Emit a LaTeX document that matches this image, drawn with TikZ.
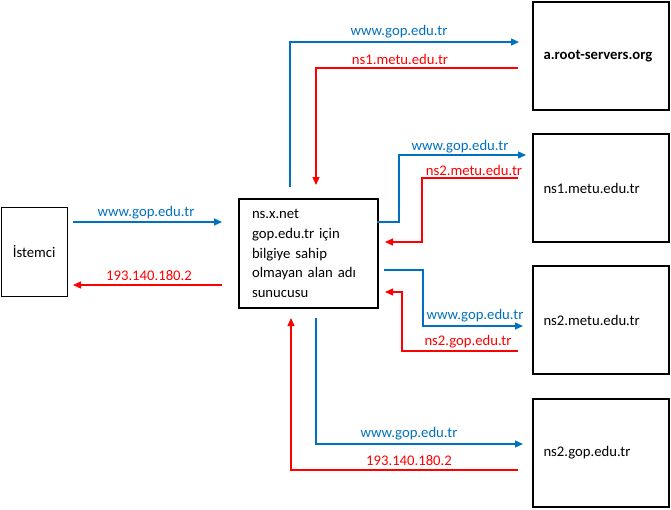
\documentclass[tikz,border=0pt]{standalone}
\usepackage{fontspec}
\setmainfont{Carlito}
\usetikzlibrary{arrows.meta}
\definecolor{qblue}{RGB}{0,112,192}
\definecolor{qred}{RGB}{255,0,0}
\begin{document}
\begin{tikzpicture}[x=1pt,y=-1pt,
  every node/.style={font=\fontsize{14.7}{19.8}\selectfont},
  srv/.style={draw, line width=2pt, anchor=north west, minimum width=136pt, minimum height=108pt,
              text width=115pt, inner xsep=10.5pt, align=left},
  qry/.style={qblue, line width=1.3pt, -{Triangle[length=8pt,width=7pt]}},
  ans/.style={qred, line width=1.3pt, -{Triangle[length=8pt,width=7pt]}},
  qlbl/.style={text=qblue, inner sep=0pt},
  albl/.style={text=qred, inner sep=0pt}]
\useasboundingbox (0,0) rectangle (671,509);

% boxes
\node[draw, line width=1pt, minimum width=66pt, minimum height=89pt, anchor=north west, inner sep=0pt]
  (ist) at (0.7,207) {İstemci};
\node[draw, line width=2pt, anchor=north west, minimum width=139pt, minimum height=109pt,
      text width=113pt, inner xsep=13pt, align=left] (ns) at (238,198)
  {ns.x.net\\gop.edu.tr için\\bilgiye sahip\\olmayan alan adı\\sunucusu};
\node[srv, font=\fontsize{14.7}{19.8}\selectfont\bfseries] (root) at (532,1) {a.root-servers.org};
\node[srv] (ns1) at (532,133) {ns1.metu.edu.tr};
\node[srv] (ns2m) at (532,265) {ns2.metu.edu.tr};
\node[srv] (ns2g) at (532,398) {ns2.gop.edu.tr};

% connector end points
\coordinate (i1) at (73,222);   \coordinate (c1) at (222,222);
\coordinate (c2) at (222,285);  \coordinate (i2) at (73,285);
\coordinate (c3) at (290,187);  \coordinate (r1) at (519,42);
\coordinate (r2) at (518,68);   \coordinate (c4) at (316,185);
\coordinate (c5) at (377,222);  \coordinate (n1a) at (526,155);
\coordinate (n1b) at (518,178); \coordinate (c6) at (385,242);
\coordinate (c7) at (384,270);  \coordinate (n2a) at (523,326);
\coordinate (n2b) at (518,351); \coordinate (c8) at (385,292);
\coordinate (c9) at (316,318);  \coordinate (g1) at (523,444);
\coordinate (g2) at (518,470);  \coordinate (c10) at (291,318);

% connectors
\draw[qry] (i1) -- (c1);
\draw[ans] (c2) -- (i2);
\draw[qry] (c3) |- (r1);
\draw[ans] (r2) -| (c4);
\draw[qry] (c5) -- (399,222) -- (399,155) -- (n1a);
\draw[ans] (n1b) -- (422,178) -- (422,242) -- (c6);
\draw[qry] (c7) -- (423,270) -- (423,326) -- (n2a);
\draw[ans] (n2b) -- (402,351) -- (402,292) -- (c8);
\draw[qry] (c9) |- (g1);
\draw[ans] (g2) -| (c10);

% labels
\node[qlbl] at (146,213) {www.gop.edu.tr};
\node[albl] at (149,276) {193.140.180.2};
\node[qlbl] at (399,32) {www.gop.edu.tr};
\node[albl] at (400,59.5) {ns1.metu.edu.tr};
\node[qlbl] at (460,147) {www.gop.edu.tr};
\node[albl] at (474,170.5) {ns2.metu.edu.tr};
\node[qlbl] at (475,316) {www.gop.edu.tr};
\node[albl] at (468,342) {ns2.gop.edu.tr};
\node[qlbl] at (409,434) {www.gop.edu.tr};
\node[albl] at (409,460.5) {193.140.180.2};
\end{tikzpicture}
\end{document}
